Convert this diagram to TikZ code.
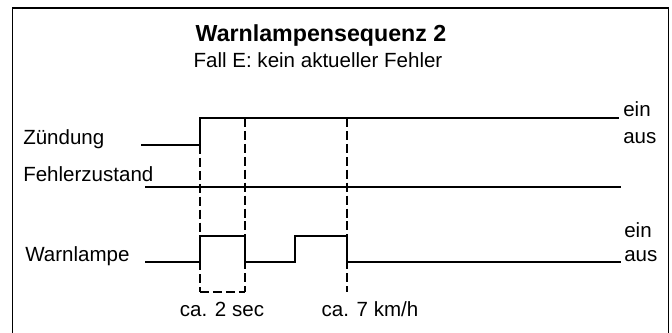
\documentclass[tikz,border=0pt]{standalone}
\usepackage{fontspec}
\setmainfont{Liberation Sans}
\usetikzlibrary{positioning}

\begin{document}
\begin{tikzpicture}[
    x=0.025cm, y=-0.025cm,
    signal/.style={line width=1.5pt},
    marker/.style={line width=1.1pt, dash pattern=on 6.4pt off 2.8pt},
    lbl/.style={font=\fontsize{14.6}{17}\selectfont, inner sep=0pt}
]
\useasboundingbox (0,0) rectangle (672,333);
% frame
\draw[line width=1.4pt] (12.5,334) -- (12.5,8) -- (668.5,8) -- (668.5,334);

% title
\node[font=\fontsize{16.5}{19}\selectfont\bfseries, anchor=base, inner sep=0pt]
    (title) at (321,42) {Warnlampensequenz 2};
\node[lbl, anchor=base] (sub) at (318,68) {Fall E: kein aktueller Fehler};

% Zuendung
\node[lbl, anchor=base west] (zlbl) at (23,145) {Zündung};
\coordinate (z0) at (141,145);
\coordinate (z1) at (200,145);
\coordinate (z2) at (200,118);
\coordinate (z3) at (619,118);
\draw[signal] (z0) -- (z1) -- (z2) -- (z3);
\node[lbl, anchor=base west] (zein) at (623,117) {ein};
\node[lbl, anchor=base west] (zaus) at (623,144) {aus};

% Fehlerzustand
\node[lbl, anchor=base west] (flbl) at (23,182) {Fehlerzustand};
\coordinate (f0) at (145,187);
\coordinate (f1) at (621,187);
\draw[signal] (f0) -- (f1);

% Warnlampe
\node[lbl, anchor=base west] (wlbl) at (25,262) {Warnlampe};
\coordinate (w0) at (145,262);
\coordinate (w1) at (200,262);
\coordinate (w2) at (200,236);
\coordinate (w3) at (245,236);
\coordinate (w4) at (245,262);
\coordinate (w5) at (295,262);
\coordinate (w6) at (295,236);
\coordinate (w7) at (347,236);
\coordinate (w8) at (347,262);
\coordinate (w9) at (621,262);
\draw[signal] (w0) -- (w1) -- (w2) -- (w3) -- (w4) -- (w5) -- (w6) -- (w7) -- (w8) -- (w9);
\node[lbl, anchor=base west] (wein) at (624,238) {ein};
\node[lbl, anchor=base west] (waus) at (624,262) {aus};

% markers
\coordinate (m1) at (245,118);
\coordinate (m2) at (347,118);
\coordinate (t1) at (200,292);
\coordinate (t2) at (245,292);
\coordinate (t3) at (347,292);
\draw[marker] (z1) -- (t1);
\draw[marker] (t1) -- (t2);
\draw[marker] (m1) -- (t2);
\draw[marker] (m2) -- (t3);

\node[lbl, anchor=base] (sec) at (222,317) {ca. 2 sec};
\node[lbl, anchor=base] (kmh) at (370,317) {ca. 7 km/h};
\end{tikzpicture}
\end{document}
